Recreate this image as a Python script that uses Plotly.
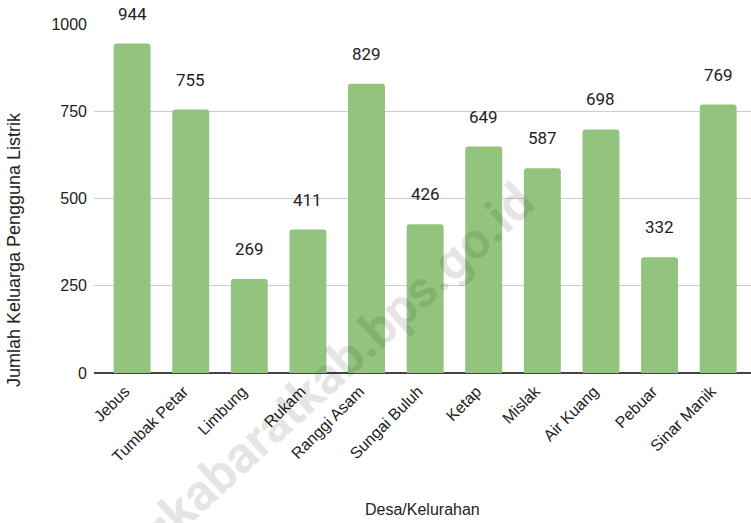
import plotly.graph_objects as go

categories = ["Jebus", "Tumbak Petar", "Limbung", "Rukam", "Ranggi Asam", "Sungai Buluh",
              "Ketap", "Mislak", "Air Kuang", "Pebuar", "Sinar Manik"]
values = [944, 755, 269, 411, 829, 426, 649, 587, 698, 332, 769]
y_ticks = [0, 250, 500, 750, 1000]

fig = go.Figure()
fig.add_trace(go.Bar(x=categories, y=values, marker_color="#93c47d", marker_line_width=0,
                     marker_cornerradius=3, hoverinfo="x+y"))

for c, v in zip(categories, values):
    fig.add_annotation(x=c, y=v, text=str(v), showarrow=False, yshift=30,
                       font=dict(family="Roboto", size=17, color="#222222"))

# watermark
fig.add_annotation(xref="paper", yref="paper", x=0.321, y=-0.0645, xanchor="center", yanchor="middle",
                   text="<b>bangkabaratkab.bps.go.id</b>", showarrow=False, textangle=-42.5,
                   font=dict(family="Roboto", size=51, color="rgba(0,0,0,0.10)"))

# axis titles
fig.add_annotation(xref="paper", yref="paper", x=-0.1218, y=0.355, xanchor="center", yanchor="middle",
                   text="Jumlah Keluarga Pengguna Listrik", showarrow=False, textangle=-90,
                   font=dict(family="Liberation Sans", size=18, color="#222222"))
fig.add_annotation(xref="paper", yref="paper", x=0.5, y=-0.39, xanchor="center", yanchor="middle",
                   text="Desa/Kelurahan", showarrow=False,
                   font=dict(family="Liberation Sans", size=16, color="#222222"))

fig.update_layout(
    width=751, height=523,
    margin=dict(l=94, r=0, t=24, b=150),
    paper_bgcolor="white", plot_bgcolor="white",
    showlegend=False,
    bargap=0.37,
    font=dict(family="Liberation Sans", size=16, color="#222222"),
    xaxis=dict(range=[-0.65, 10.56], tickangle=-45, showgrid=False, showline=False,
               ticks="", automargin=False, ticklabelstandoff=5, ticklabelshift=-7,
               tickfont=dict(size=16, color="#222222")),
    yaxis=dict(range=[0, 1000], tickvals=y_ticks, showgrid=True, gridcolor="#cccccc",
               zeroline=True, zerolinecolor="#444444", zerolinewidth=2,
               ticks="", automargin=False, ticklabelstandoff=6,
               tickfont=dict(size=16, color="#222222")),
)

fig.write_html("out.html", config={"displayModeBar": False},
               post_script="document.body.style.margin='0';document.body.style.overflow='hidden';")
